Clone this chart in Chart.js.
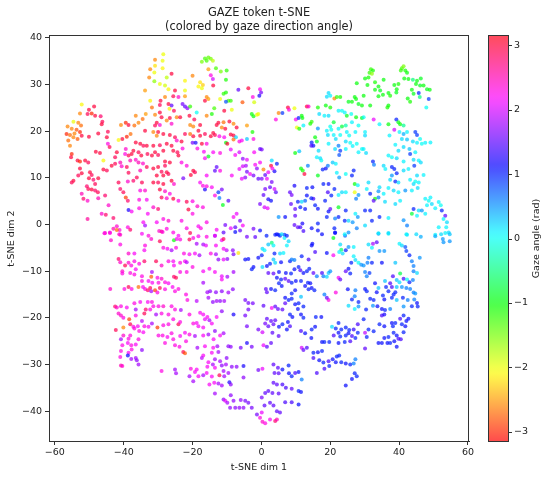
<!DOCTYPE html>
<html>
<head>
<meta charset="utf-8">
<script src="https://cdn.jsdelivr.net/npm/chart.js@4.4.1/dist/chart.umd.min.js"></script>
<style>
html, body { margin: 0; padding: 0; background: #fff; }
</style>
</head>
<body>
<canvas id="chart" width="550" height="477"></canvas>
<script>
// points, [t-SNE dim 1, t-SNE dim 2, gaze angle (rad)]
const topLeft = [
  [-32.3,33.3,-2.6],[-32.6,31.5,-2.6],[-33.8,28.7,-2.5],[-32.3,26.5,-2.1],[-31.8,25.1,-2.7],
  [-52.2,25.7,-2.1],[-48.6,25.3,3.0],[-50.1,24.6,3.0],[-52.7,23.8,-2.6],[-50.5,23.7,2.9],
  [-49.3,23.8,-3.0],[-48.3,23.3,3.0],[-46.7,23.2,2.8],[-46.2,22.0,2.9],[-46.4,21.5,3.0],
  [-54.6,22.0,-2.0],[-53.2,21.8,-2.6],[-52.4,21.2,-2.7],[-56.3,21.0,-2.6],[-55.1,20.5,-2.6],
  [-53.7,20.3,-2.8],[-54.3,19.5,-2.6],[-52.7,19.8,-3.0],[-56.6,19.4,-3.0],[-55.6,19.2,-2.7],
  [-54.6,18.7,-2.6],[-53.4,18.3,-2.8],[-52.2,19.0,3.0],[-50.1,18.8,3.0],[-47.4,19.5,3.0],
  [-44.6,19.9,2.9],[-44.9,18.7,3.0],[-40.8,21.3,-2.6],[-39.4,21.8,-3.0],[-38.6,21.3,3.0],
  [-36.9,21.2,-2.7],[-35.7,21.8,-2.6],[-36.5,23.3,-2.6],[-34.5,22.6,-2.7],[-33.6,23.7,-2.5],
  [-33.8,20.1,3.0],[-38.0,19.4,-2.7],[-39.1,18.8,-3.0],[-40.4,18.3,3.0],[-41.5,18.1,-2.1],
  [-44.6,17.3,2.3],[-44.1,16.6,2.9],[-36.5,17.6,3.0],[-35.2,17.3,3.0],[-34.3,16.9,2.9],
  [-33.3,16.9,3.0],[-37.2,15.8,3.0],[-39.4,16.2,2.4],[-39.6,15.1,2.3],[-38.6,14.8,2.9],
  [-37.7,15.1,3.0],[-35.7,15.5,2.9],[-34.9,14.8,3.0],[-33.1,15.1,2.9],[-31.8,14.8,3.0],
  [-42.0,15.5,3.0],[-42.5,14.4,2.9],[-56.1,18.0,-2.7],[-55.6,16.9,-2.6],[-55.1,15.1,-3.0],
  [-55.3,14.4,3.0],[-53.4,13.7,3.0],[-52.7,13.5,-3.0],[-51.2,13.7,3.0],[-50.3,13.3,2.9],
  [-48.1,15.6,3.0],[-46.9,15.3,3.0],[-45.9,13.7,-2.1],[-52.7,12.0,3.0],[-52.2,11.0,3.0],
  [-53.2,10.5,2.9],[-54.6,9.4,3.0],[-55.1,9.0,2.9],[-49.8,11.2,3.0],[-49.3,10.6,2.9],
  [-50.1,9.9,3.0],[-48.8,9.6,2.8],[-47.4,9.9,3.0],[-48.3,8.7,2.9],[-50.7,8.2,2.8],
  [-50.3,7.6,2.9],[-49.3,7.5,3.0],[-48.3,7.3,2.8],[-47.5,6.9,2.9],[-52.2,6.6,2.5],
  [-51.7,5.5,2.8],[-50.5,5.1,2.4],[-45.9,11.8,3.0],[-44.9,11.6,2.9],[-43.5,12.6,3.0],
  [-42.5,13.0,2.9],[-41.0,13.3,2.5],[-40.6,12.5,2.4],[-39.1,12.3,2.9],[-38.1,13.7,2.5],
  [-36.5,13.9,2.4],[-35.7,13.3,2.5],[-34.4,13.1,2.4],[-33.3,12.3,2.9],[-35.2,11.6,2.5],
  [-38.6,11.1,2.9],[-38.8,9.2,2.4],[-37.2,9.4,2.8],[-36.2,10.1,2.9],[-34.7,9.0,2.9],
  [-41.5,9.0,2.9],[-41.0,7.6,2.8],[-40.1,6.9,2.9],[-39.4,5.8,-2.9],[-38.8,5.1,2.8],
  [-35.2,7.3,2.3],[-33.8,7.3,2.4],[-35.5,5.3,2.3],[-33.3,5.3,2.2],[-38.6,3.1,1.2],
  [-37.7,2.8,2.2],[-35.5,3.5,2.3],[-33.0,2.3,2.2],[-50.5,1.2,2.6],[-46.4,2.3,2.4],
  [-45.2,2.1,2.8],[-43.0,1.4,2.8],[-45.4,-1.8,2.4],[-44.0,-1.7,2.3],[-43.0,-0.9,2.5],
  [-42.0,-0.4,2.4],[-41.2,-1.2,2.3],[-41.0,-2.2,2.4],[-38.8,-0.6,2.3],[-38.1,-1.1,2.8],
  [-34.3,0.5,2.2],[-33.8,-0.2,1.8],[-34.7,-2.0,2.2],[-32.8,-2.4,2.3],[-47.4,5.6,2.5],
  [-45.4,6.2,2.8],[-44.4,4.1,2.4]
];
const topMidLeft = [
  [-28.5,36.5,-2.0],[-28.7,35.1,-2.0],[-30.9,35.3,-2.6],[-30.9,34.0,-2.2],[-28.7,33.5,-2.1],
  [-31.1,32.6,-2.0],[-31.1,30.7,-1.6],[-29.5,30.1,-2.0],[-28.0,29.8,-1.9],[-27.0,29.0,-2.1],
  [-26.1,32.3,3.0],[-27.5,31.5,-1.8],[-22.2,30.8,-2.1],[-20.0,31.9,-2.6],[-17.8,30.5,-2.2],
  [-17.0,29.9,-2.3],[-18.3,29.6,-2.1],[-17.3,29.2,-2.0],[-16.4,35.6,-1.3],[-15.4,35.8,-1.4],
  [-15.9,35.1,-1.3],[-14.7,35.5,-1.5],[-14.1,35.1,-1.8],[-17.3,34.9,-1.5],[-15.4,33.3,-2.5],
  [-13.2,33.5,-1.3],[-11.8,32.8,-1.5],[-10.1,33.0,-1.2],[-10.3,31.0,-1.1],[-14.7,32.0,2.3],
  [-14.1,31.2,2.0],[-14.0,29.8,3.0],[-22.2,28.7,-2.0],[-22.2,27.5,-2.5],[-25.1,28.7,3.0],
  [-24.1,27.3,2.4],[-25.6,27.5,2.9],[-28.0,27.3,-2.6],[-29.3,26.5,3.0],[-29.5,25.6,2.9],
  [-27.0,25.8,3.0],[-26.1,25.5,1.5],[-26.7,24.8,-2.1],[-22.9,25.8,1.6],[-22.2,25.3,1.5],
  [-21.5,24.9,1.7],[-20.7,25.3,-1.2],[-18.8,24.0,0.0],[-15.9,27.3,-2.6],[-15.4,26.9,-2.5],
  [-16.4,26.5,3.0],[-12.0,26.9,-2.0],[-11.0,28.0,-1.2],[-10.3,28.3,-1.1],[-9.6,26.5,-1.3],
  [-8.9,26.5,-1.2],[-10.3,26.3,0.8],[-8.6,24.6,-2.0],[-10.8,24.4,3.0],[-6.7,28.9,1.5],
  [-3.8,29.2,3.0],[-5.5,26.2,-2.8],[-2.5,27.3,2.3],[-2.1,26.2,-1.9],[-2.8,23.7,-1.0],
  [-2.3,23.2,-1.0],[-1.3,23.5,-2.0],[-13.7,24.9,-1.3],[-14.4,23.7,-1.1],[-30.9,23.5,-2.6],
  [-29.5,24.0,3.0],[-29.0,23.0,3.0],[-27.5,22.3,-2.6],[-26.6,22.8,3.0],[-26.1,21.6,2.4],
  [-24.6,23.0,-2.6],[-23.6,23.0,3.0],[-25.4,24.4,2.9],[-20.9,23.3,3.0],[-19.5,22.5,2.9],
  [-20.7,21.3,-2.6],[-19.8,21.0,-2.6],[-17.8,21.3,3.0],[-15.9,23.3,-2.6],[-13.0,21.3,3.0],
  [-12.5,21.8,3.0],[-11.5,20.8,-2.6],[-11.0,21.9,-2.7],[-10.5,20.5,3.0],[-9.3,22.1,3.0],
  [-8.1,21.6,-2.6],[-7.2,20.8,3.0],[-4.2,21.2,-2.5],[-2.6,19.8,-1.1],[-30.4,21.8,3.0],
  [-30.9,21.2,2.9],[-29.5,21.3,2.4],[-31.4,19.8,-2.6],[-30.0,19.8,3.0],[-30.4,19.0,-2.6],
  [-28.5,19.4,3.0],[-26.6,19.2,3.0],[-25.1,18.7,2.9],[-24.6,18.0,2.4],[-23.2,17.8,3.0],
  [-22.2,19.4,2.9],[-20.7,19.4,-2.7],[-19.8,18.9,3.0],[-18.3,20.1,3.0],[-17.8,19.0,3.0],
  [-16.4,19.4,2.9],[-14.7,18.9,3.0],[-14.0,19.6,3.0],[-13.5,19.2,2.9],[-12.2,18.9,2.3],
  [-10.8,18.7,2.2],[-8.9,19.3,3.0],[-8.1,19.1,3.0],[-7.4,18.7,0.2],[-8.1,18.2,-2.7],
  [-6.4,17.8,2.3],[-5.7,18.0,2.2],[-4.2,18.3,0.3],[-2.3,18.3,2.3],[-10.3,17.5,-1.0],
  [-9.9,17.3,3.0],[-27.5,17.3,3.0],[-26.1,16.9,3.0],[-28.5,15.8,3.0],[-29.5,17.0,2.9],
  [-31.4,16.9,3.0],[-30.9,15.5,3.0],[-30.0,14.9,2.9],[-25.6,15.8,3.0],[-24.4,15.5,2.9],
  [-24.1,14.8,3.0],[-22.9,16.3,2.3],[-20.0,17.5,1.6],[-19.1,17.5,1.2],[-18.6,16.3,2.3],
  [-17.3,17.3,3.0],[-15.9,17.3,2.3],[-16.7,15.6,2.2],[-15.4,14.6,-0.9],[-16.4,14.2,2.2],
  [-14.0,15.5,2.2],[-12.0,15.3,2.3],[-8.9,16.1,2.1],[-7.6,14.9,2.2],[-6.4,15.5,2.0],
  [-5.4,14.1,1.7],[-4.2,13.9,2.1],[-2.1,15.5,2.2],[-28.0,13.5,3.0],[-26.6,13.3,3.0],
  [-28.0,12.6,2.9],[-30.0,12.3,3.0],[-31.4,12.0,3.0],[-29.0,11.3,2.9],[-27.5,11.2,3.0],
  [-30.4,10.5,3.0],[-28.5,10.5,3.0],[-27.0,10.8,2.9],[-23.2,13.3,2.3],[-21.7,12.6,2.3],
  [-19.8,11.5,3.0],[-19.3,11.2,2.9],[-20.5,10.6,3.0],[-22.7,9.9,1.6],[-15.9,10.5,2.2],
  [-13.5,11.5,1.5],[-13.0,12.3,1.5],[-12.0,11.5,2.3],[-6.4,11.9,2.1],[-5.4,12.5,2.0],
  [-4.5,12.6,1.8],[-4.2,11.3,1.6],[-4.7,10.1,1.7],[-5.7,9.8,2.1],[-3.3,10.8,2.2],
  [-2.3,10.5,1.6],[-1.8,12.8,2.2],[-1.3,12.0,1.7],[-8.6,10.5,2.2],[-31.4,9.0,3.0],
  [-30.0,9.0,2.9],[-28.5,8.7,3.0],[-26.1,9.4,3.0],[-25.4,8.7,2.4],[-29.5,7.5,3.0],
  [-28.0,7.1,2.4],[-26.6,6.6,2.3],[-29.0,5.8,2.9],[-27.5,5.6,2.4],[-25.6,5.5,3.0],
  [-24.1,5.1,2.3],[-21.7,4.9,2.9],[-20.0,5.0,2.3],[-18.6,3.9,2.4],[-17.0,3.7,2.3],
  [-21.2,3.2,3.0],[-20.0,2.3,2.3],[-17.8,9.0,2.2],[-17.0,8.3,2.3],[-16.4,7.5,1.2],
  [-15.9,8.2,2.3],[-14.4,8.0,2.2],[-12.5,6.9,0.9],[-11.5,7.5,1.6],[-13.5,6.2,2.3],
  [-12.2,5.7,0.6],[-11.2,4.2,-0.9],[-9.6,5.1,1.5],[-8.1,1.6,2.2],[-7.2,2.3,2.1],
  [-6.2,0.8,1.6],[-5.4,-0.2,2.2],[-6.2,-1.3,1.5],[-2.3,-0.9,1.6],[-1.8,-2.7,1.5],
  [-7.6,-0.6,1.5],[-8.9,-0.8,2.1],[-10.5,-0.1,1.6],[-11.0,-1.7,1.5],[-13.0,-1.1,2.2],
  [-13.5,-2.4,1.6],[-15.9,0.5,2.3],[-18.3,-0.4,2.2],[-17.6,-0.8,2.3],[-21.7,-0.8,2.3],
  [-23.2,0.8,2.3],[-27.0,0.8,2.4],[-28.5,1.2,2.3],[-30.4,0.5,2.2],[-27.5,-0.9,2.3],
  [-29.0,-1.5,2.8],[-25.6,-1.7,2.3],[-24.1,-2.4,2.2],[-31.4,3.7,2.4],[-30.0,3.3,2.8]
];
const topMidRight = [
  [-0.4,29.0,2.2],[-0.1,28.3,1.6],[-0.6,27.6,1.2],[-0.9,23.7,-2.0],[27.7,30.3,-1.0],
  [19.5,28.2,0.2],[20.0,27.6,0.1],[19.0,27.4,0.2],[21.2,27.0,-2.6],[21.9,27.3,-1.2],
  [22.9,27.3,-1.1],[27.1,27.3,-1.0],[27.5,26.9,-1.0],[25.3,26.3,-0.9],[26.3,26.3,-1.0],
  [28.2,25.8,-0.9],[29.2,25.5,-1.0],[5.0,23.9,-2.6],[6.1,23.9,0.9],[7.7,25.1,3.0],
  [8.0,24.6,2.3],[9.6,24.9,-2.0],[13.2,25.3,3.0],[13.7,25.3,2.4],[4.2,22.5,2.3],
  [10.0,22.5,2.2],[10.8,22.8,1.0],[11.9,22.8,-1.0],[11.7,23.3,-1.0],[10.3,20.8,-2.0],
  [11.0,20.5,-1.1],[12.2,21.2,0.1],[14.2,21.6,-1.1],[14.6,22.0,-1.2],[16.4,25.1,-1.1],
  [16.8,23.7,0.2],[18.3,23.3,0.1],[19.5,23.3,0.2],[18.7,25.5,-1.0],[20.0,25.1,-1.1],
  [22.4,24.4,0.1],[23.4,24.4,0.0],[24.2,24.0,0.1],[24.8,23.3,-0.9],[26.1,23.7,0.0],
  [27.5,23.0,-1.0],[29.2,22.8,-0.9],[28.2,21.2,0.0],[26.3,21.9,0.1],[24.5,21.2,-0.3],
  [23.4,21.0,-0.8],[22.4,20.5,0.1],[21.0,21.9,-0.8],[20.0,21.0,0.0],[19.0,20.1,0.1],
  [20.3,20.3,0.0],[19.3,19.2,0.2],[21.0,19.2,0.1],[21.6,18.3,0.2],[22.9,19.2,0.0],
  [24.8,19.8,0.1],[25.5,19.1,0.0],[27.3,19.8,0.1],[24.5,17.8,0.2],[25.8,17.5,0.0],
  [26.5,16.8,0.1],[24.5,16.2,0.1],[27.7,17.3,0.0],[28.2,15.5,0.1],[29.2,16.2,0.0],
  [22.4,16.9,0.6],[22.9,15.8,0.9],[22.6,14.9,0.8],[21.4,16.2,0.2],[19.5,17.3,0.1],
  [16.4,20.6,0.5],[15.6,18.7,-1.0],[14.6,17.6,1.0],[15.1,16.9,1.1],[14.5,16.9,1.4],
  [16.1,17.8,-0.9],[16.6,15.8,0.2],[11.0,15.7,0.3],[9.8,15.3,-1.0],[16.1,14.4,0.1],
  [17.1,14.2,0.2],[17.4,13.7,0.0],[17.8,11.8,1.0],[18.7,12.0,1.1],[19.3,12.6,0.6],
  [20.7,13.3,0.3],[21.6,13.0,0.1],[13.5,12.6,0.6],[11.5,12.0,-1.0],[12.0,11.6,-1.1],
  [12.5,10.8,3.0],[16.4,10.5,-0.9],[21.9,11.1,0.1],[22.6,10.1,0.5],[24.5,10.8,0.0],
  [26.8,11.6,1.0],[26.3,10.5,1.0],[27.1,8.7,-1.0],[28.0,8.4,0.1],[27.1,6.9,-2.0],
  [28.2,6.3,0.5],[27.5,5.5,0.6],[24.5,6.9,0.1],[23.4,6.9,0.2],[22.4,6.3,0.1],
  [21.2,7.6,1.0],[19.5,8.7,1.1],[18.0,8.7,1.0],[19.3,6.9,1.4],[20.3,6.2,1.0],
  [18.5,5.1,1.0],[20.0,3.3,1.5],[19.5,2.8,1.1],[22.4,3.7,-0.9],[24.5,3.0,1.0],
  [27.3,2.3,0.1],[28.0,1.6,0.5],[25.3,0.8,0.2],[26.5,0.5,0.5],[24.2,0.8,1.0],
  [22.4,1.6,1.0],[21.4,1.3,0.6],[19.0,1.6,1.0],[15.6,4.1,1.0],[16.4,3.4,1.1],
  [15.1,5.5,1.4],[14.5,5.6,1.0],[13.2,6.2,1.1],[12.7,5.1,0.7],[11.7,4.9,0.2],
  [10.6,4.9,1.0],[11.3,3.7,1.0],[12.7,3.3,1.1],[9.8,3.3,1.5],[8.6,4.4,1.5],
  [8.8,6.3,1.6],[8.3,6.9,1.5],[9.6,8.3,1.2],[13.2,7.8,1.0],[14.8,8.0,1.1],
  [3.8,11.4,1.2],[4.5,13.0,1.0],[3.0,13.7,0.2],[2.8,12.6,3.0],[3.2,12.0,2.2],
  [0.6,11.8,-2.6],[-0.4,13.3,2.2],[-0.4,16.2,1.5],[0.1,16.1,1.6],[-0.9,9.8,1.5],
  [0.1,9.8,1.6],[1.1,10.6,1.5],[2.0,11.2,2.1],[1.6,9.8,2.1],[3.0,9.1,1.6],
  [2.5,8.0,1.5],[3.8,7.6,2.0],[4.2,6.9,1.5],[1.1,7.6,1.6],[0.6,6.3,1.5],
  [2.0,5.4,1.2],[2.8,5.1,1.1],[-0.4,4.4,1.6],[0.9,3.7,2.0],[1.8,3.5,2.1],
  [5.0,1.6,0.5],[6.9,1.6,1.1],[9.8,1.9,1.5],[10.6,-0.6,1.5],[11.3,-0.6,1.4],
  [9.6,-0.1,1.5],[11.9,0.2,1.2],[14.6,-0.8,1.1],[16.4,-1.3,1.1],[16.4,0.2,1.0],
  [21.2,-0.8,1.0],[21.4,-1.7,1.1],[24.3,-2.4,0.7],[25.3,-1.7,0.5],[27.7,-0.8,0.6],
  [-0.4,-1.3,1.1],[1.5,-2.4,1.0],[4.0,-2.2,1.0],[5.0,-2.2,0.9],[6.7,-2.2,0.9]
];
const topRight = [
  [31.8,33.3,-1.2],[32.4,33.0,-1.1],[31.4,32.5,-1.2],[32.1,32.3,-1.6],[31.1,31.5,-1.1],
  [30.1,31.3,-1.0],[33.0,30.5,-1.1],[30.8,29.9,-1.0],[35.5,31.0,-1.0],[34.0,29.6,-1.0],
  [33.0,28.9,-1.0],[34.5,28.7,-0.9],[35.3,27.8,-1.0],[34.0,27.5,-1.0],[36.9,28.2,-1.0],
  [37.4,27.6,-1.1],[38.6,29.9,-1.0],[39.3,29.0,-1.0],[39.8,30.1,-1.1],[39.2,28.3,-0.9],
  [40.8,33.5,-1.3],[41.3,33.9,-1.5],[40.5,33.0,-1.2],[41.8,33.0,-1.1],[42.3,32.5,-1.0],
  [41.5,31.3,-1.0],[42.7,31.2,-1.0],[44.0,31.0,-0.5],[45.2,30.8,-1.0],[46.3,31.3,-0.9],
  [44.9,30.1,-1.0],[46.1,29.8,-0.9],[47.1,29.8,-1.0],[48.1,29.0,-0.9],[48.9,28.9,-1.0],
  [43.7,28.9,-1.0],[44.2,28.0,-0.9],[45.7,28.2,1.0],[46.0,27.3,-0.5],[48.6,26.9,0.9],
  [42.5,27.0,-1.0],[43.2,26.3,-1.1],[47.9,25.1,0.0],[31.6,25.5,-1.0],[36.9,25.5,-1.0],
  [36.6,25.1,-1.1],[29.7,27.6,-1.0],[29.7,23.0,0.0],[32.6,22.5,2.1],[34.3,21.5,0.1],
  [36.9,21.5,-1.0],[39.2,22.5,1.0],[38.6,20.3,2.0],[39.8,21.9,-1.0],[40.3,21.5,-1.0],
  [41.3,21.2,-0.4],[30.1,19.8,0.1],[30.1,19.1,0.2],[37.2,19.1,0.1],[40.1,19.8,0.1],
  [41.3,19.4,0.4],[42.3,19.8,0.1],[40.8,18.3,0.2],[42.3,18.2,0.3],[44.7,19.8,0.9],
  [45.2,19.2,0.9],[44.0,17.8,0.2],[45.2,17.5,0.1],[46.6,17.3,0.0],[47.6,17.5,0.1],
  [49.1,17.6,0.1],[46.1,18.3,0.0],[38.9,17.1,0.1],[41.3,16.6,0.2],[39.8,15.8,0.2],
  [43.0,16.2,0.3],[43.2,15.1,0.9],[44.7,15.5,0.1],[29.7,16.2,0.1],[30.4,15.3,0.2],
  [36.9,14.8,0.1],[37.9,14.4,0.0],[39.3,14.2,0.2],[32.4,13.5,1.0],[32.7,12.8,0.6],
  [41.3,13.5,0.1],[44.2,13.9,0.2],[45.7,13.7,0.1],[46.3,13.3,0.2],[44.4,12.6,0.9],
  [35.5,12.6,0.2],[36.0,11.9,0.1],[37.9,12.3,1.0],[38.6,11.9,1.0],[39.3,11.0,1.0],
  [41.3,11.6,0.2],[42.7,11.9,0.1],[47.1,10.6,0.1],[45.2,10.5,0.2],[37.9,10.5,0.5],
  [37.4,9.6,0.2],[38.9,9.2,1.0],[39.8,9.0,0.2],[43.2,9.6,0.1],[44.2,8.7,0.2],
  [44.7,9.2,0.0],[45.7,9.0,0.1],[45.4,7.8,0.2],[43.7,7.3,0.1],[41.8,7.3,0.5],
  [39.8,6.9,0.1],[38.4,7.3,0.2],[36.9,7.8,0.1],[34.3,8.0,0.2],[34.0,7.1,0.5],
  [35.5,6.6,0.1],[31.1,9.0,0.2],[30.6,7.6,0.1],[31.6,6.6,1.0],[34.0,5.8,0.6],
  [33.0,5.5,-1.0],[32.6,5.1,1.5],[35.9,4.9,0.2],[38.9,4.4,0.2],[40.3,5.1,0.1],
  [47.6,5.5,0.1],[48.6,5.1,0.0],[49.1,5.8,0.1],[49.5,4.4,0.2],[48.1,4.1,0.1],
  [50.5,3.5,0.1],[51.5,4.8,0.1],[52.1,4.1,0.0],[44.2,3.3,1.0],[45.7,3.0,0.2],
  [46.6,3.0,0.5],[47.6,2.3,0.1],[45.2,1.9,0.1],[43.7,2.3,-0.8],[52.4,3.0,1.0],
  [53.4,1.9,1.5],[52.9,1.2,0.1],[53.9,0.5,0.2],[51.5,-0.6,0.1],[53.7,-0.6,0.1],
  [54.4,-1.7,0.2],[50.5,-2.2,0.1],[42.3,-0.2,0.6],[41.3,0.9,0.5],[36.9,1.4,0.1],
  [34.3,1.6,1.0],[31.6,3.0,1.0],[30.1,3.0,1.0],[32.1,0.8,1.0],[30.1,-0.2,0.2],
  [34.0,-2.0,0.5],[36.9,-2.0,0.1],[42.3,-2.2,0.2]
];
const bottomLeft = [
  [-45.6,-1.9,2.3],[-44.0,-1.8,2.3],[-42.0,-1.2,-2.7],[-41.3,-2.1,2.4],[-43.7,-3.4,2.4],
  [-41.0,-4.3,2.3],[-38.6,-6.2,2.4],[-36.9,-6.2,2.2],[-33.8,-4.5,2.3],[-34.0,-5.5,2.2],
  [-32.0,-3.1,2.4],[-41.5,-7.4,2.8],[-41.0,-8.1,2.4],[-39.6,-8.8,2.9],[-38.6,-8.2,2.4],
  [-37.8,-8.8,2.3],[-36.9,-7.9,2.3],[-35.5,-8.4,2.3],[-34.0,-7.9,2.8],[-40.4,-10.0,2.4],
  [-40.4,-10.5,2.3],[-38.1,-10.4,2.3],[-36.5,-9.6,2.2],[-36.9,-10.7,2.3],[-34.7,-11.1,2.3],
  [-31.8,-10.2,1.8],[-32.0,-11.2,-2.8],[-34.7,-12.1,2.3],[-32.8,-12.1,2.2],[-31.7,-12.5,2.2],
  [-43.9,-13.8,2.4],[-39.8,-13.8,2.3],[-38.6,-13.4,2.9],[-37.7,-13.8,2.3],[-35.7,-13.4,-2.7],
  [-34.4,-13.4,2.2],[-33.8,-13.8,2.3],[-33.0,-14.1,2.8],[-32.3,-13.6,2.9],[-32.0,-14.3,1.8],
  [-42.5,-17.6,2.8],[-42.0,-17.8,2.4],[-40.8,-17.5,2.3],[-39.1,-17.8,2.2],[-41.5,-19.1,2.4],
  [-40.8,-19.5,2.4],[-40.1,-20.0,2.3],[-36.9,-16.9,2.3],[-36.5,-18.2,1.8],[-35.2,-16.6,2.2],
  [-33.6,-18.2,2.8],[-32.3,-18.2,2.3],[-33.0,-16.6,2.2],[-31.8,-16.6,2.3],[-34.0,-19.1,2.9],
  [-36.5,-19.5,2.3],[-38.4,-20.3,-2.9],[-38.1,-21.4,2.9],[-37.2,-21.9,2.3],[-35.9,-21.8,2.2],
  [-34.7,-20.7,1.9],[-34.0,-21.8,2.3],[-32.8,-21.9,2.2],[-31.8,-21.2,1.8],[-40.1,-22.1,-2.6],
  [-42.3,-22.6,2.9],[-36.9,-22.3,2.3],[-35.5,-22.8,2.3],[-34.3,-23.1,2.2],[-38.1,-23.8,2.3],
  [-40.1,-23.8,2.4],[-38.6,-24.5,2.3],[-40.8,-24.6,1.8],[-35.7,-24.6,2.3],[-38.8,-25.4,2.2],
  [-37.8,-25.9,2.3],[-36.5,-25.7,2.2],[-40.4,-25.9,2.3],[-40.8,-27.1,2.3],[-38.6,-27.5,2.2],
  [-38.8,-28.1,1.1],[-37.8,-28.8,1.8],[-36.5,-28.6,1.8],[-37.7,-26.8,2.3],[-34.7,-26.9,1.7],
  [-41.0,-28.4,2.3],[-36.2,-29.1,1.7],[-35.7,-30.0,1.8],[-40.8,-30.2,2.5],[-40.4,-30.3,2.4]
];
const bottomMidLeft = [
  [-29.7,-1.4,2.4],[-28.7,-1.6,2.3],[-25.4,-3.4,-1.0],[-24.6,-3.1,2.2],[-23.6,-3.2,2.3],
  [-29.5,-3.6,2.9],[-28.5,-5.0,2.3],[-27.3,-5.2,2.2],[-26.1,-5.5,1.8],[-24.8,-5.0,2.3],
  [-20.7,-1.8,2.9],[-20.9,-3.2,2.9],[-19.8,-2.9,2.3],[-18.3,-2.5,2.2],[-18.8,-4.1,1.8],
  [-16.9,-4.3,1.8],[-16.1,-4.5,2.1],[-15.9,-2.6,2.3],[-13.5,-2.4,2.2],[-11.5,-3.4,2.2],
  [-11.0,-3.1,2.9],[-13.2,-4.5,2.2],[-11.0,-5.2,2.2],[-10.1,-5.5,1.9],[-8.3,-5.5,1.7],
  [-8.1,-6.4,1.6],[-6.7,-6.1,-2.2],[-7.6,-1.6,1.1],[-4.2,-2.6,1.6],[-4.7,-7.5,1.1],
  [-3.8,-7.4,1.1],[-2.8,-9.6,1.0],[-2.3,-9.1,1.1],[-22.5,-6.2,2.3],[-20.9,-6.4,2.2],
  [-19.3,-6.2,2.2],[-18.0,-6.6,1.8],[-14.7,-6.2,2.3],[-13.2,-6.4,1.8],[-12.5,-7.5,1.7],
  [-11.0,-7.5,2.1],[-9.9,-7.4,1.7],[-27.0,-7.9,2.3],[-25.6,-7.9,2.2],[-25.4,-8.8,2.2],
  [-23.6,-8.2,2.3],[-22.2,-7.9,2.2],[-21.7,-8.1,1.9],[-29.0,-8.8,2.4],[-30.6,-7.9,2.9],
  [-20.0,-9.1,2.3],[-16.9,-10.0,2.2],[-15.1,-9.5,2.2],[-13.5,-10.2,2.2],[-11.5,-11.1,2.1],
  [-11.5,-11.8,2.2],[-9.9,-11.2,1.8],[-8.1,-10.2,1.8],[-30.2,-11.4,2.3],[-29.0,-11.6,2.4],
  [-29.9,-12.5,2.3],[-28.0,-12.4,2.3],[-27.0,-12.6,2.2],[-25.4,-11.2,2.8],[-24.8,-11.4,2.9],
  [-23.6,-10.2,2.3],[-21.7,-10.2,2.3],[-30.9,-14.1,-2.9],[-29.5,-13.6,2.9],[-30.2,-14.6,2.3],
  [-28.0,-13.9,2.3],[-25.8,-13.4,2.2],[-25.1,-14.3,2.3],[-24.1,-13.8,2.3],[-21.9,-15.0,2.3],
  [-21.5,-16.2,2.3],[-16.9,-12.5,1.8],[-15.7,-14.5,1.8],[-14.9,-14.3,1.7],[-13.2,-14.5,1.7],
  [-11.5,-14.3,1.7],[-9.6,-14.6,1.8],[-8.3,-13.9,1.7],[-15.4,-15.7,1.8],[-14.1,-16.6,1.7],
  [-13.0,-16.4,1.8],[-12.0,-16.4,1.7],[-10.8,-16.4,1.8],[-18.8,-16.4,1.9],[-4.7,-16.2,1.6],
  [-3.8,-16.8,1.6],[-2.5,-16.9,1.6],[-3.8,-18.2,1.6],[-8.1,-19.3,1.2],[-4.7,-19.5,1.6],
  [-4.2,-21.8,1.6],[-31.4,-17.5,2.3],[-29.9,-17.5,2.3],[-28.5,-17.5,2.4],[-26.1,-17.5,2.3],
  [-25.1,-18.2,2.3],[-30.6,-19.3,1.8],[-29.0,-19.1,2.3],[-27.0,-19.3,2.3],[-23.4,-18.3,1.8],
  [-20.9,-19.3,2.3],[-17.8,-18.9,2.2],[-16.9,-19.3,2.2],[-15.7,-19.8,2.2],[-16.4,-20.3,2.1],
  [-15.1,-20.5,1.8],[-14.4,-21.2,2.2],[-13.0,-19.8,2.2],[-11.5,-18.6,1.7],[-25.6,-20.3,2.3],
  [-24.1,-21.4,2.9],[-23.6,-20.9,2.3],[-19.8,-21.2,2.3],[-18.8,-21.1,2.2],[-18.3,-21.8,2.2],
  [-16.9,-22.1,2.2],[-30.2,-22.1,-2.9],[-28.5,-21.6,2.3],[-27.0,-21.4,2.3],[-29.9,-23.8,2.3],
  [-28.7,-23.8,2.3],[-27.3,-24.1,2.2],[-26.1,-23.3,2.3],[-25.6,-24.6,2.3],[-23.6,-23.9,2.2],
  [-22.2,-23.2,2.2],[-21.9,-25.0,2.3],[-20.9,-23.6,2.3],[-19.3,-23.9,1.8],[-16.9,-23.8,2.2],
  [-15.4,-23.6,1.8],[-13.9,-24.6,2.2],[-12.0,-23.8,2.2],[-11.0,-23.3,1.8],[-13.5,-22.8,1.7],
  [-25.1,-25.9,2.3],[-23.8,-26.2,2.3],[-22.7,-27.3,2.9],[-22.2,-27.6,-2.8],[-28.0,-25.4,2.3],
  [-18.6,-26.4,1.8],[-16.4,-26.1,2.2],[-14.0,-26.4,2.2],[-12.8,-26.1,1.8],[-12.5,-27.3,1.8],
  [-9.6,-26.1,1.7],[-8.9,-26.2,1.7],[-6.0,-26.4,1.6],[-4.2,-25.4,1.2],[-2.8,-26.2,1.6],
  [-16.9,-28.1,2.2],[-17.3,-28.6,1.9],[-14.4,-27.5,2.2],[-15.4,-29.5,2.2],[-13.5,-28.9,1.8],
  [-15.7,-30.5,2.2],[-14.1,-30.0,1.8],[-13.5,-30.7,2.2],[-12.0,-29.3,1.8],[-11.5,-30.2,1.7],
  [-10.3,-30.0,1.8],[-10.1,-28.6,1.7],[-8.6,-30.5,1.7],[-7.2,-30.5,1.7],[-5.2,-30.3,1.2],
  [-25.1,-31.1,1.8],[-24.8,-31.9,1.8],[-29.0,-31.4,2.3],[-20.9,-32.5,1.8],[-19.8,-33.6,1.8],
  [-20.5,-30.9,2.3],[-19.3,-31.6,2.2],[-18.8,-31.1,2.2],[-18.3,-32.5,2.2],[-16.9,-32.3,1.8],
  [-15.9,-31.8,2.2],[-14.4,-32.6,2.2],[-12.2,-32.3,2.9],[-11.0,-31.4,1.8],[-10.8,-32.5,1.8],
  [-9.6,-31.8,1.8],[-15.1,-34.3,2.2],[-13.7,-33.9,2.2],[-12.5,-34.1,1.8],[-11.5,-34.5,1.8],
  [-9.3,-33.8,1.2],[-8.9,-34.3,1.7],[-13.5,-36.2,1.8],[-11.0,-37.5,1.7],[-10.5,-37.8,2.1],
  [-9.9,-38.2,1.8],[-8.9,-36.6,1.7],[-8.1,-37.8,1.7],[-6.0,-37.6,1.7],[-4.7,-37.8,1.6],
  [-3.8,-38.2,1.6],[-9.1,-39.3,1.7],[-7.6,-39.3,1.7],[-6.4,-39.3,1.7],[-5.2,-39.3,1.7],
  [-2.8,-39.3,1.6],[-1.3,-40.7,1.6],[-5.2,-32.8,1.7]
];
const bottomMidRight = [
  [4.5,-2.1,1.1],[5.4,-2.4,1.0],[5.9,-2.1,0.2],[6.7,-2.9,0.1],[7.4,-2.4,1.0],
  [2.0,-4.3,0.3],[3.0,-3.9,-0.5],[3.5,-4.5,0.1],[0.3,-5.2,0.2],[0.9,-5.5,0.1],
  [7.4,-4.5,0.1],[7.9,-3.6,0.2],[3.8,-6.2,1.0],[5.4,-6.2,0.2],[6.4,-6.1,0.1],
  [0.1,-6.6,1.0],[-0.9,-7.1,1.1],[3.5,-7.5,0.3],[4.0,-8.2,0.2],[5.7,-8.1,1.1],
  [8.3,-7.9,1.0],[8.8,-7.5,0.6],[9.6,-7.6,0.6],[11.7,-6.8,1.0],[13.7,-7.5,1.4],
  [14.6,-4.5,1.1],[14.8,-4.1,1.1],[15.6,-5.9,1.4],[12.2,-1.4,1.4],[17.6,-2.1,1.1],
  [20.9,-2.9,-0.9],[21.4,-1.8,1.1],[24.2,-2.1,0.1],[22.9,-4.3,0.2],[23.2,-5.4,-0.6],
  [22.6,-5.9,0.1],[23.6,-6.2,0.2],[25.3,-4.8,0.5],[26.8,-4.8,0.1],[24.5,-5.5,1.0],
  [20.9,-6.6,2.2],[19.0,-6.1,1.1],[26.8,-6.8,0.1],[27.3,-7.6,0.2],[26.1,-8.2,1.0],
  [28.2,-8.2,0.0],[29.0,-8.6,0.5],[0.3,-9.1,0.2],[1.6,-8.9,1.1],[2.5,-8.4,1.0],
  [2.0,-10.4,1.5],[3.5,-10.5,1.5],[5.1,-10.2,1.1],[7.1,-10.4,1.1],[8.6,-10.5,1.0],
  [9.6,-9.6,1.1],[10.8,-9.1,1.0],[11.3,-9.8,1.4],[12.2,-10.4,1.1],[13.2,-10.0,1.0],
  [13.9,-9.5,1.0],[15.1,-10.4,1.5],[17.6,-10.4,1.4],[16.1,-11.1,0.6],[18.0,-11.1,0.6],
  [19.5,-10.4,0.3],[20.0,-10.0,0.5],[19.0,-11.2,0.2],[22.4,-11.4,2.2],[22.9,-11.8,1.5],
  [24.5,-10.0,1.5],[25.3,-9.5,1.1],[25.8,-10.5,1.0],[4.5,-11.4,1.1],[5.7,-11.8,1.0],
  [6.9,-11.6,1.5],[5.1,-12.6,1.0],[5.9,-13.2,1.1],[7.9,-12.1,1.5],[8.8,-12.5,1.0],
  [10.0,-12.1,1.1],[11.5,-12.1,1.0],[13.5,-12.5,1.0],[14.2,-12.6,1.1],[12.7,-13.2,1.1],
  [13.7,-13.9,1.0],[14.6,-13.6,1.1],[15.4,-14.1,1.0],[1.3,-13.8,1.5],[1.6,-14.5,1.5],
  [2.8,-13.8,1.1],[4.0,-14.1,1.0],[9.8,-14.1,1.1],[8.8,-14.8,1.0],[11.5,-15.5,0.3],
  [18.3,-15.0,0.6],[21.6,-14.6,2.3],[19.5,-16.2,2.3],[19.0,-15.7,1.5],[25.1,-13.9,1.1],
  [27.3,-14.1,0.6],[27.1,-15.4,0.6],[28.2,-16.6,1.0],[26.3,-16.1,1.0],[25.3,-17.4,0.2],
  [27.1,-18.1,0.1],[28.2,-17.6,0.5],[6.9,-15.7,1.1],[7.9,-16.2,1.0],[8.8,-15.9,1.0],
  [6.9,-16.9,1.5],[9.8,-17.1,1.1],[10.8,-16.9,1.0],[10.6,-18.1,1.1],[12.2,-17.6,1.0],
  [3.0,-17.9,2.2],[4.0,-17.6,1.5],[4.8,-18.1,1.5],[6.1,-18.2,1.5],[0.6,-17.4,1.5],
  [8.3,-19.3,1.0],[9.0,-19.8,1.1],[11.5,-19.3,1.1],[12.2,-20.0,1.0],[15.8,-19.8,1.0],
  [17.4,-19.8,1.1],[1.6,-20.2,1.5],[2.8,-20.7,1.5],[4.0,-20.5,1.5],[1.1,-21.2,1.6],
  [2.0,-21.8,1.5],[3.5,-21.4,1.5],[5.1,-21.9,1.1],[6.1,-21.4,1.0],[7.7,-20.9,1.1],
  [8.3,-21.8,1.4],[-0.9,-22.5,1.6],[0.3,-23.1,2.0],[3.2,-23.2,1.5],[22.4,-21.1,1.0],
  [20.5,-21.9,0.2],[21.6,-22.3,1.0],[23.2,-22.5,1.0],[24.5,-22.1,1.0],[25.5,-22.6,1.0],
  [26.8,-22.5,1.3],[28.0,-21.4,1.4],[22.4,-23.2,1.1],[22.9,-24.0,1.0],[21.0,-23.8,1.4],
  [24.5,-23.8,1.0],[25.3,-23.3,1.1],[26.3,-23.9,1.4],[27.3,-24.3,1.0],[28.0,-23.2,1.0],
  [25.8,-25.0,1.4],[24.2,-25.2,1.0],[22.4,-25.4,1.1],[17.6,-25.2,1.1],[18.3,-25.2,1.0],
  [19.7,-25.2,1.0],[14.5,-24.3,1.1],[14.6,-22.5,1.0],[15.6,-21.9,1.1],[12.7,-23.3,1.1],
  [11.5,-22.8,1.4],[0.6,-25.9,2.1],[1.6,-26.2,1.5],[2.8,-25.4,1.5],[7.4,-22.5,1.1],
  [5.0,-23.9,1.5],[11.7,-26.4,2.0],[12.2,-26.9,1.5],[13.2,-26.4,1.4],[15.1,-27.5,1.0],
  [16.4,-27.4,1.1],[17.6,-27.1,1.0],[15.1,-28.6,1.4],[16.8,-29.1,1.1],[18.0,-29.6,1.0],
  [19.5,-29.3,1.4],[20.7,-28.9,1.1],[21.9,-28.3,1.0],[22.6,-28.1,1.0],[21.6,-29.5,1.1],
  [23.2,-29.5,1.0],[24.5,-29.8,1.1],[25.8,-30.0,1.0],[26.8,-29.8,0.6],[27.3,-28.9,0.6],
  [0.3,-30.9,2.1],[3.5,-30.0,1.5],[4.8,-30.7,1.5],[3.8,-31.8,1.5],[5.0,-31.9,1.5],
  [6.1,-31.1,1.1],[7.9,-30.2,1.0],[8.0,-31.9,1.1],[8.8,-32.5,1.0],[9.8,-31.8,1.4],
  [10.8,-31.6,1.1],[11.7,-33.2,0.6],[16.1,-31.8,1.4],[18.3,-30.9,1.4],[19.7,-30.3,1.0],
  [24.5,-34.5,1.1],[27.1,-31.9,1.0],[27.7,-32.5,1.0],[26.3,-33.1,1.1],[3.5,-33.9,1.5],
  [4.5,-34.3,1.5],[6.1,-34.3,1.4],[7.1,-35.0,1.4],[8.8,-35.2,1.5],[10.8,-35.7,1.0],
  [11.5,-35.9,1.1],[1.1,-36.1,1.5],[2.0,-35.7,1.5],[3.2,-36.1,1.5],[5.0,-36.2,1.5],
  [0.1,-37.1,1.6],[2.5,-38.2,1.5],[3.5,-38.8,1.5],[0.9,-38.8,1.5],[6.9,-38.1,1.4],
  [8.8,-38.1,1.4],[10.8,-38.6,1.1],[4.5,-40.0,1.5],[5.4,-40.3,1.5],[0.1,-40.3,2.1],
  [-0.4,-41.4,2.3],[0.3,-42.3,2.4],[1.1,-42.6,2.3],[2.5,-41.8,2.2],[4.0,-42.1,2.8],
  [4.5,-41.8,2.5],[-0.9,-31.2,1.6]
];
const bottomRight = [
  [34.0,-1.9,0.1],[36.9,-1.8,0.2],[42.1,-2.1,0.1],[45.0,-2.1,0.2],[46.3,-2.6,0.4],
  [50.5,-2.5,0.4],[52.2,-2.1,0.2],[53.4,-1.8,0.1],[54.7,-2.1,0.3],[52.7,-3.1,0.5],
  [52.9,-3.8,0.5],[54.7,-3.6,0.5],[31.1,-4.3,0.2],[32.4,-4.1,1.8],[33.5,-3.8,1.5],
  [32.1,-5.0,0.1],[34.3,-5.7,0.5],[35.7,-5.7,0.5],[40.1,-4.1,0.1],[40.8,-4.5,0.2],
  [41.8,-4.8,0.8],[42.1,-5.7,0.9],[43.0,-6.6,1.0],[46.0,-7.1,0.5],[43.7,-7.9,0.6],
  [44.2,-8.9,0.6],[44.2,-10.0,0.6],[45.2,-10.4,0.2],[31.1,-7.1,0.6],[30.8,-8.2,0.6],
  [29.7,-8.8,0.5],[32.1,-8.2,1.0],[35.0,-8.2,1.1],[38.9,-8.2,0.3],[30.1,-10.2,0.6],
  [31.4,-10.4,0.9],[30.6,-11.1,0.6],[40.3,-10.5,-0.7],[38.2,-11.1,1.4],[39.3,-11.9,0.3],
  [40.1,-12.4,0.2],[41.3,-11.6,1.4],[42.3,-11.8,0.0],[43.0,-12.4,1.0],[44.0,-11.9,0.6],
  [33.0,-12.6,1.1],[34.0,-13.6,0.3],[35.9,-12.1,0.3],[36.2,-13.4,1.0],[37.4,-12.6,1.4],
  [37.9,-13.4,1.4],[36.9,-14.3,1.0],[39.3,-13.4,0.3],[40.8,-13.4,0.5],[42.1,-13.6,0.6],
  [43.2,-13.8,0.6],[44.2,-14.6,0.6],[44.7,-14.8,0.5],[38.9,-14.5,1.0],[38.4,-15.0,1.0],
  [30.1,-13.8,1.1],[30.6,-14.3,1.0],[33.5,-14.5,1.1],[31.6,-15.9,1.0],[32.6,-16.2,1.0],
  [35.3,-15.2,1.0],[35.7,-16.1,1.1],[37.9,-15.7,1.0],[39.3,-16.2,0.3],[41.1,-15.7,1.0],
  [42.5,-16.2,0.6],[44.4,-16.1,0.6],[45.2,-16.8,1.1],[45.4,-17.6,1.0],[43.7,-17.5,1.0],
  [41.3,-17.6,0.5],[32.4,-17.4,0.5],[33.7,-17.5,1.1],[35.0,-18.1,1.1],[35.9,-18.3,1.0],
  [37.4,-18.1,0.6],[30.4,-18.2,1.0],[29.7,-20.3,1.0],[35.0,-19.5,1.4],[35.7,-19.3,1.2],
  [41.3,-19.5,1.0],[40.3,-20.2,1.4],[42.1,-20.7,1.1],[42.7,-20.2,1.1],[37.9,-21.1,1.1],
  [38.9,-21.1,1.0],[38.2,-21.8,1.0],[40.8,-21.4,1.0],[41.8,-21.8,1.1],[34.3,-21.4,1.0],
  [35.7,-21.8,1.1],[31.1,-22.5,1.0],[32.6,-22.9,1.0],[30.1,-23.2,1.9],[30.6,-24.1,1.0],
  [35.7,-24.3,1.1],[36.9,-24.1,1.0],[38.4,-23.2,1.0],[39.3,-23.8,1.1],[39.8,-24.5,1.4],
  [40.5,-24.6,1.4],[41.3,-23.1,1.0],[34.0,-25.4,1.1],[35.0,-25.4,1.1],[36.6,-25.4,1.1],
  [37.4,-25.4,1.0],[38.6,-25.0,1.1],[39.3,-26.2,1.1],[30.1,-26.6,1.5]
];

const xTicks = [-60, -40, -20, 0, 20, 40, 60];
const yTicks = [-40, -30, -20, -10, 0, 10, 20, 30, 40];
const angleTicks = [-3, -2, -1, 0, 1, 2, 3];

const points = [].concat(topLeft, topMidLeft, topMidRight, topRight,
  bottomLeft, bottomMidLeft, bottomMidRight, bottomRight)
  .map(p => ({ x: p[0], y: p[1], a: p[2] }));

// matplotlib 'hsv' colormap segments
const HSV = {
  r: [[0,1],[0.15873,1],[0.174603,0.96875],[0.333333,0.03125],[0.349206,0],[0.666667,0],[0.68254,0.03125],[0.84127,0.96875],[0.857143,1],[1,1]],
  g: [[0,0],[0.15873,0.9375],[0.174603,1],[0.507937,1],[0.666667,0.0625],[0.68254,0],[1,0]],
  b: [[0,0],[0.333333,0],[0.349206,0.0625],[0.507937,1],[0.84127,1],[0.857143,0.9375],[1,0.09375]]
};
function seg(s, t) {
  for (let i = 1; i < s.length; i++) {
    if (t <= s[i][0]) {
      const [x0, y0] = s[i - 1], [x1, y1] = s[i];
      return y0 + (y1 - y0) * (t - x0) / (x1 - x0);
    }
  }
  return s[s.length - 1][1];
}
function angleColor(a, alpha) {
  const t = Math.min(1, Math.max(0, (a + Math.PI) / (2 * Math.PI)));
  const r = Math.round(seg(HSV.r, t) * 255), g = Math.round(seg(HSV.g, t) * 255), b = Math.round(seg(HSV.b, t) * 255);
  return `rgba(${r},${g},${b},${alpha})`;
}
const ALPHA = 0.7;
const FONT = "'DejaVu Sans', sans-serif";
const minus = v => String(v).replace('-', '\u2212');

const extras = {
  id: 'extras',
  afterDraw(chart) {
    const { ctx, chartArea: ca } = chart;
    ctx.save();
    // frame around the axes
    ctx.strokeStyle = '#333';
    ctx.lineWidth = 1;
    ctx.strokeRect(Math.round(ca.left) + 0.5, Math.round(ca.top) - 0.5, Math.round(ca.right - ca.left) - 1, Math.round(ca.bottom - ca.top) + 1);
    // title
    ctx.fillStyle = '#222';
    ctx.font = '11.4px ' + FONT;
    ctx.textAlign = 'center';
    ctx.textBaseline = 'middle';
    const cx = (ca.left + ca.right) / 2;
    ctx.fillText('GAZE token t-SNE', cx, 13);
    ctx.fillText('(colored by gaze direction angle)', cx, 27);
    // colorbar
    const bx = 488, bw = 20, top = ca.top, bot = ca.bottom;
    const grad = ctx.createLinearGradient(0, bot, 0, top);
    for (let i = 0; i <= 60; i++) {
      const t = i / 60;
      grad.addColorStop(t, angleColor(-Math.PI + t * 2 * Math.PI, ALPHA));
    }
    ctx.fillStyle = grad;
    ctx.fillRect(bx, top, bw, bot - top);
    ctx.strokeStyle = '#333';
    ctx.strokeRect(bx + 0.5, top - 0.5, bw, bot - top + 1);
    ctx.font = '9.5px ' + FONT;
    ctx.textAlign = 'left';
    ctx.fillStyle = '#222';
    angleTicks.forEach(v => {
      const y = bot - (v + Math.PI) / (2 * Math.PI) * (bot - top);
      ctx.beginPath();
      ctx.moveTo(bx + bw, Math.round(y) + 0.5);
      ctx.lineTo(bx + bw + 4, Math.round(y) + 0.5);
      ctx.stroke();
      ctx.fillText(minus(v), bx + bw + 6, y);
    });
    ctx.translate(537, (top + bot) / 2);
    ctx.rotate(-Math.PI / 2);
    ctx.textAlign = 'center';
    ctx.fillText('Gaze angle (rad)', 0, 0);
    ctx.restore();
  }
};

new Chart(document.getElementById('chart'), {
  type: 'scatter',
  data: {
    datasets: [{
      data: points,
      pointRadius: 2.0,
      pointBorderWidth: 0,
      pointBackgroundColor: c => angleColor(c.raw.a, ALPHA),
      pointHoverRadius: 2.0
    }]
  },
  options: {
    responsive: false,
    animation: false,
    devicePixelRatio: 1,
    events: [],
    layout: { padding: { top: 36, right: 81, left: 0, bottom: 0 } },
    plugins: { legend: { display: false }, tooltip: { enabled: false } },
    scales: {
      x: {
        type: 'linear', min: -61.7, max: 60.3,
        afterBuildTicks: s => { s.ticks = xTicks.map(v => ({ value: v })); },
        afterFit: s => { s.height = 36; },
        ticks: { color: '#222', font: { family: FONT, size: 9.5 }, padding: 2, maxRotation: 0, callback: v => minus(v) },
        grid: { drawOnChartArea: false, tickLength: 4, color: '#333' },
        border: { color: '#333' },
        title: { display: true, text: 't-SNE dim 1', color: '#222', font: { family: FONT, size: 9.5 }, padding: { top: 0, bottom: 4 } }
      },
      y: {
        type: 'linear', min: -46.4, max: 40.4,
        afterBuildTicks: s => { s.ticks = yTicks.map(v => ({ value: v })); },
        afterFit: s => { s.width = 49; },
        ticks: { color: '#222', font: { family: FONT, size: 9.5 }, padding: 3, callback: v => minus(v) },
        grid: { drawOnChartArea: false, tickLength: 4, color: '#333' },
        border: { color: '#333' },
        title: { display: true, text: 't-SNE dim 2', color: '#222', font: { family: FONT, size: 9.5 }, padding: { top: 6, bottom: 0 } }
      }
    }
  },
  plugins: [extras]
});
</script>
</body>
</html>
